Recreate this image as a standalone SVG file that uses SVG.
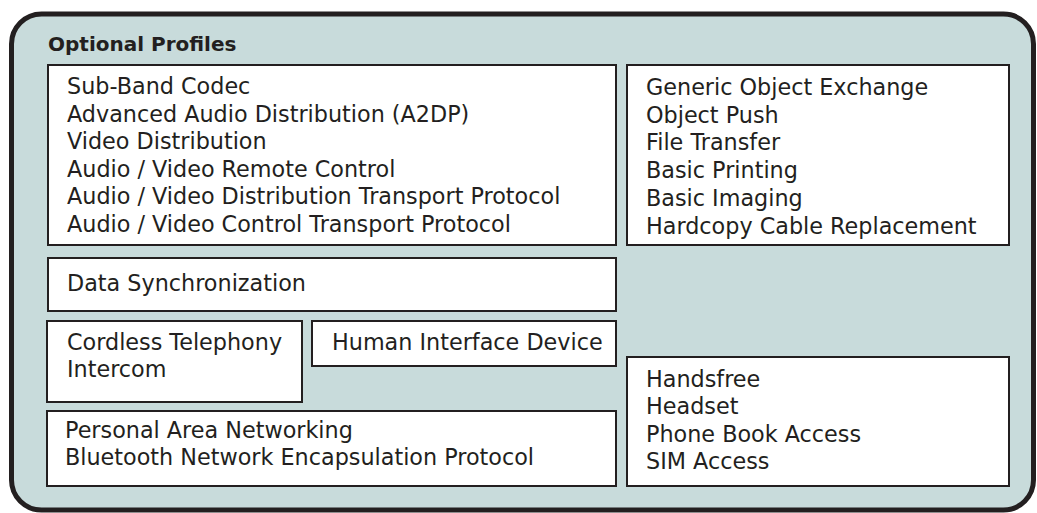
<svg xmlns="http://www.w3.org/2000/svg" width="1037" height="513" viewBox="0 0 1037 513">
<style>
.box{fill:#ffffff;stroke:#231f20;stroke-width:2}
.t{font-family:"DejaVu Sans","Open Sans","Liberation Sans",sans-serif;font-size:22.3px;fill:#231f20}
.title{font-family:"DejaVu Sans","Open Sans","Liberation Sans",sans-serif;font-size:20px;font-weight:bold;fill:#231f20}
</style>
<rect x="11.5" y="14" width="1022" height="496" rx="30" fill="#c8dbdb" stroke="#231f20" stroke-width="5"/>
<text class="title" x="48" y="51">Optional Profiles</text>
<g id="av">
<rect class="box" x="48" y="65" width="568" height="180"/>
<text class="t" x="67" y="94">Sub-Band Codec</text>
<text class="t" x="67" y="121.5">Advanced Audio Distribution (A2DP)</text>
<text class="t" x="67" y="149">Video Distribution</text>
<text class="t" x="67" y="176.5">Audio / Video Remote Control</text>
<text class="t" x="67" y="204">Audio / Video Distribution Transport Protocol</text>
<text class="t" x="67" y="231.5">Audio / Video Control Transport Protocol</text>
</g>
<g id="obex">
<rect class="box" x="627" y="65" width="382" height="180"/>
<text class="t" x="646" y="95">Generic Object Exchange</text>
<text class="t" x="646" y="122.5">Object Push</text>
<text class="t" x="646" y="150">File Transfer</text>
<text class="t" x="646" y="178">Basic Printing</text>
<text class="t" x="646" y="206">Basic Imaging</text>
<text class="t" x="646" y="234">Hardcopy Cable Replacement</text>
</g>
<g id="sync">
<rect class="box" x="48" y="258" width="568" height="53"/>
<text class="t" x="67" y="291">Data Synchronization</text>
</g>
<g id="cordless">
<rect class="box" x="47" y="321" width="255" height="81"/>
<text class="t" x="67" y="350">Cordless Telephony</text>
<text class="t" x="67" y="377">Intercom</text>
</g>
<g id="hid">
<rect class="box" x="312" y="321" width="304" height="45"/>
<text class="t" x="332" y="350">Human Interface Device</text>
</g>
<g id="pan">
<rect class="box" x="47" y="411" width="569" height="75"/>
<text class="t" x="65" y="438">Personal Area Networking</text>
<text class="t" x="65" y="465">Bluetooth Network Encapsulation Protocol</text>
</g>
<g id="hf">
<rect class="box" x="627" y="357" width="382" height="129"/>
<text class="t" x="646" y="387">Handsfree</text>
<text class="t" x="646" y="414">Headset</text>
<text class="t" x="646" y="442">Phone Book Access</text>
<text class="t" x="646" y="469">SIM Access</text>
</g>
<g id="connectors"></g>
</svg>
